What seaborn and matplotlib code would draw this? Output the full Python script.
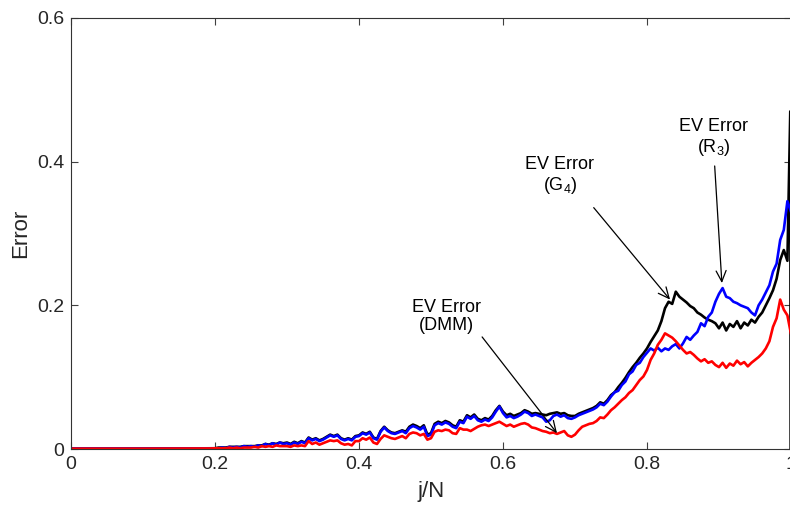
"""EV error vs j/N for three methods (DMM, G4, R3), MATLAB-style line chart."""
import matplotlib
matplotlib.use("Agg")
import matplotlib.pyplot as plt
import numpy as np
import pandas as pd
import seaborn as sns

# sample positions j/N: flat start, then a regular 0.005 grid from 0.2 to 1.0
x_start = [0.0, 0.1, 0.195]
x_grid = list(np.round(np.arange(0.2, 1.0001, 0.005), 3))

blue_start = [0.0006, 0.0006, 0.0010]
red_start = [0.0005, 0.0005, 0.0008]
black_start = [0.0006, 0.0006, 0.0010]

# values, 10 per row (each row spans 0.05 of j/N)
blue_vals = [
    0.001, 0.001, 0.002, 0.001, 0.003, 0.002, 0.003, 0.002, 0.004, 0.003,
    0.004, 0.003, 0.005, 0.004, 0.007, 0.005, 0.008, 0.006, 0.009, 0.007,
    0.008, 0.006, 0.009, 0.007, 0.010, 0.008, 0.015, 0.012, 0.014, 0.011,
    0.013, 0.016, 0.019, 0.017, 0.019, 0.014, 0.012, 0.014, 0.012, 0.017,
    0.018, 0.022, 0.020, 0.023, 0.015, 0.013, 0.024, 0.030, 0.025, 0.022,
    0.021, 0.023, 0.025, 0.022, 0.029, 0.032, 0.030, 0.027, 0.031, 0.018,
    0.020, 0.033, 0.036, 0.034, 0.037, 0.035, 0.031, 0.029, 0.038, 0.036,
    0.045, 0.042, 0.046, 0.040, 0.038, 0.041, 0.039, 0.044, 0.052, 0.059,
    0.050, 0.044, 0.046, 0.043, 0.045, 0.048, 0.052, 0.050, 0.046, 0.048,
    0.046, 0.044, 0.038, 0.040, 0.046, 0.048, 0.045, 0.047, 0.043, 0.042,
    0.044, 0.047, 0.049, 0.051, 0.053, 0.055, 0.058, 0.063, 0.061, 0.066,
    0.073, 0.079, 0.081, 0.089, 0.094, 0.104, 0.108, 0.117, 0.120, 0.128,
    0.134, 0.140, 0.137, 0.141, 0.136, 0.140, 0.138, 0.143, 0.146, 0.140,
    0.147, 0.156, 0.152, 0.158, 0.163, 0.175, 0.171, 0.184, 0.190, 0.205,
    0.216, 0.224, 0.212, 0.210, 0.205, 0.203, 0.200, 0.198, 0.196, 0.190,
    0.186, 0.200, 0.208, 0.218, 0.228, 0.247, 0.258, 0.291, 0.305, 0.345,
    0.330,
]
red_vals = [
    0.001, 0.001, 0.001, 0.001, 0.002, 0.001, 0.002, 0.001, 0.002, 0.002,
    0.002, 0.003, 0.002, 0.004, 0.003, 0.004, 0.003, 0.005, 0.004, 0.004,
    0.004, 0.003, 0.005, 0.004, 0.005, 0.004, 0.011, 0.007, 0.009, 0.006,
    0.008, 0.010, 0.012, 0.011, 0.012, 0.008, 0.006, 0.007, 0.005, 0.011,
    0.011, 0.015, 0.013, 0.016, 0.009, 0.007, 0.014, 0.019, 0.017, 0.015,
    0.014, 0.016, 0.018, 0.015, 0.021, 0.023, 0.022, 0.019, 0.021, 0.013,
    0.015, 0.024, 0.026, 0.025, 0.027, 0.026, 0.022, 0.021, 0.029, 0.027,
    0.027, 0.025, 0.028, 0.031, 0.033, 0.034, 0.032, 0.034, 0.036, 0.038,
    0.035, 0.032, 0.034, 0.031, 0.033, 0.035, 0.036, 0.034, 0.030, 0.029,
    0.027, 0.025, 0.024, 0.022, 0.023, 0.021, 0.023, 0.025, 0.019, 0.017,
    0.020, 0.026, 0.031, 0.033, 0.035, 0.036, 0.039, 0.044, 0.043, 0.048,
    0.054, 0.058, 0.063, 0.068, 0.072, 0.078, 0.082, 0.089, 0.096, 0.101,
    0.110, 0.124, 0.133, 0.145, 0.152, 0.161, 0.158, 0.155, 0.150, 0.144,
    0.138, 0.133, 0.135, 0.131, 0.126, 0.122, 0.125, 0.120, 0.122, 0.117,
    0.114, 0.120, 0.113, 0.119, 0.116, 0.123, 0.118, 0.121, 0.115, 0.120,
    0.124, 0.128, 0.133, 0.140, 0.150, 0.170, 0.182, 0.208, 0.194, 0.186,
    0.160,
]
black_vals = [
    0.001, 0.002, 0.002, 0.002, 0.003, 0.003, 0.003, 0.003, 0.004, 0.004,
    0.004, 0.004, 0.005, 0.005, 0.007, 0.006, 0.008, 0.007, 0.009, 0.008,
    0.009, 0.007, 0.010, 0.008, 0.011, 0.009, 0.016, 0.013, 0.015, 0.012,
    0.014, 0.017, 0.020, 0.018, 0.020, 0.015, 0.013, 0.015, 0.013, 0.018,
    0.019, 0.023, 0.021, 0.024, 0.016, 0.014, 0.025, 0.031, 0.026, 0.023,
    0.022, 0.024, 0.026, 0.024, 0.031, 0.034, 0.032, 0.029, 0.033, 0.020,
    0.022, 0.035, 0.038, 0.036, 0.039, 0.037, 0.033, 0.031, 0.040, 0.038,
    0.047, 0.044, 0.048, 0.042, 0.040, 0.043, 0.041, 0.046, 0.054, 0.060,
    0.052, 0.047, 0.049, 0.046, 0.048, 0.050, 0.054, 0.052, 0.049, 0.050,
    0.049, 0.048, 0.047, 0.049, 0.050, 0.051, 0.049, 0.050, 0.047, 0.046,
    0.046, 0.049, 0.051, 0.053, 0.055, 0.057, 0.060, 0.065, 0.063, 0.068,
    0.075, 0.079, 0.086, 0.092, 0.099, 0.107, 0.114, 0.120, 0.127, 0.133,
    0.140, 0.149, 0.157, 0.165, 0.178, 0.196, 0.205, 0.202, 0.219, 0.212,
    0.208, 0.204, 0.199, 0.196, 0.190, 0.187, 0.183, 0.180, 0.178, 0.175,
    0.168, 0.176, 0.165, 0.174, 0.170, 0.178, 0.168, 0.176, 0.172, 0.180,
    0.176, 0.184, 0.190, 0.200, 0.210, 0.221, 0.237, 0.263, 0.277, 0.262,
    0.240,
]
# the black curve ends with a last jump right at the clipped right edge
x_black_tail = [0.9990, 0.9995]
black_tail = [0.47, 0.0]

# annotations: (text, text position, arrow tail, arrow tip)
notes = [
    ("EV Error\n(DMM)", (0.522, 0.184), (0.571, 0.156), (0.675, 0.022)),
    ("EV Error\n(G$_\\mathregular{4}$)", (0.679, 0.380), (0.726, 0.336), (0.832, 0.208)),
    ("EV Error\n(R$_\\mathregular{3}$)", (0.893, 0.433), (0.894, 0.394), (0.904, 0.231)),
]

sns.set_theme(style="white")
plt.rcParams["font.family"] = ["Liberation Sans", "DejaVu Sans"]
plt.rcParams["mathtext.fontset"] = "custom"
plt.rcParams["mathtext.rm"] = "Liberation Sans"

x_all = x_start + x_grid
df_blue = pd.DataFrame({"x": x_all, "y": blue_start + blue_vals})
df_red = pd.DataFrame({"x": x_all, "y": red_start + red_vals})
df_black = pd.DataFrame({"x": x_all[:-1] + x_black_tail,
                         "y": black_start + black_vals[:-1] + black_tail})

fig = plt.figure(figsize=(7.9, 5.05), dpi=100)
ax = fig.add_axes([71 / 790, 56 / 505, 720 / 790, 431 / 505])

lw = 1.9
sns.lineplot(data=df_black, x="x", y="y", color="black", lw=lw, estimator=None, ax=ax)
sns.lineplot(data=df_blue, x="x", y="y", color="#0000ff", lw=lw, estimator=None, ax=ax)
sns.lineplot(data=df_red, x="x", y="y", color="#ff0000", lw=lw, estimator=None, ax=ax)

for txt, pos, tail, tip in notes:
    ax.text(pos[0], pos[1], txt, ha="center", va="center", fontsize=13,
            linespacing=1.1, color="black")
    ax.annotate("", xy=tip, xytext=tail,
                arrowprops=dict(arrowstyle="->,head_length=0.65,head_width=0.3",
                                lw=0.9, color="black", shrinkA=0, shrinkB=0))

ax.set_xlim(0, 1)
ax.set_ylim(0, 0.6)
ax.set_xticks([0, 0.2, 0.4, 0.6, 0.8, 1])
ax.set_xticklabels(["0", "0.2", "0.4", "0.6", "0.8", "1"])
ax.set_yticks([0, 0.2, 0.4, 0.6])
ax.set_yticklabels(["0", "0.2", "0.4", "0.6"])
ax.tick_params(direction="in", length=5, width=0.8, color="0.25",
               labelsize=14, pad=5, top=True, right=True, bottom=True, left=True)
for s in ax.spines.values():
    s.set_color("0.2")
    s.set_linewidth(0.8)
ax.set_xlabel("j/N", fontsize=16, labelpad=6)
ax.set_ylabel("Error", fontsize=16, labelpad=4)
ax.grid(False)

fig.savefig("out.png", dpi=100)
